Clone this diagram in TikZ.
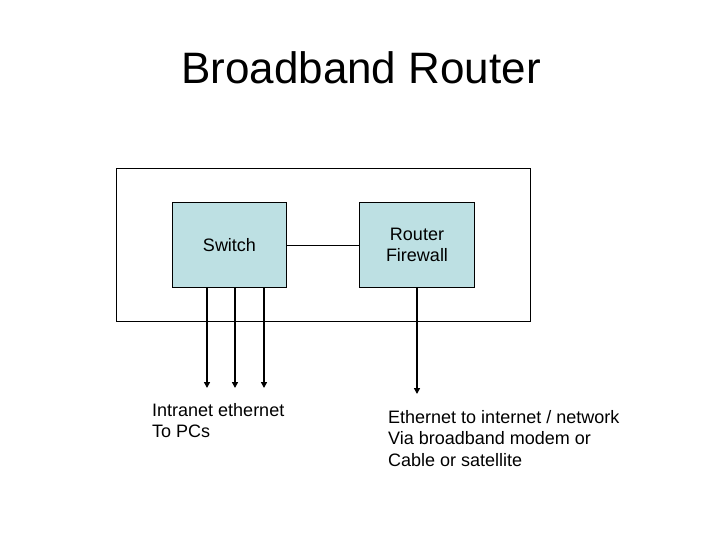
\documentclass[tikz,border=0pt]{standalone}
\usepackage{fontspec}
\setmainfont{Liberation Sans}
\usetikzlibrary{arrows.meta}
\definecolor{boxfill}{RGB}{189,224,227}
\begin{document}
\begin{tikzpicture}[x=1pt,y=-1pt,
  unit/.style={draw=black,line width=0.8pt,fill=boxfill,minimum width=114.5pt,minimum height=85.5pt,inner sep=0pt,align=center,font=\fontsize{18}{21.5}\selectfont},
  arr/.style={line width=1.8pt,-{Triangle[width=6pt,length=6pt]}},
  lbl/.style={anchor=base west,inner sep=0pt,align=left,font=\fontsize{18}{21.5}\selectfont}]
\useasboundingbox (0,0) rectangle (720,540);
\node[anchor=base,inner sep=0pt,font=\fontsize{44}{50}\selectfont] (title) at (361,84) {Broadband Router};
\node[draw=black,line width=0.8pt,minimum width=414pt,minimum height=153.5pt,inner sep=0pt] (outer) at (323.5,245) {};
\node[unit] (sw) at (229.5,245) {Switch};
\node[unit] (rt) at (417,245) {Router\\Firewall};
\draw[line width=0.6pt] (sw.east) -- (rt.west);
\coordinate (a1) at (207,388);
\coordinate (a2) at (235,388);
\coordinate (a3) at (264,388);
\coordinate (a4) at (417,394);
\draw[arr] (a1 |- sw.south) -- (a1);
\draw[arr] (a2 |- sw.south) -- (a2);
\draw[arr] (a3 |- sw.south) -- (a3);
\draw[arr] (rt.south) -- (a4);
\node[lbl] (t1) at (152,437.5) {Intranet ethernet\\To PCs};
\node[lbl] (t2) at (388,466) {Ethernet to internet / network\\Via broadband modem or\\Cable or satellite};
\end{tikzpicture}
\end{document}
